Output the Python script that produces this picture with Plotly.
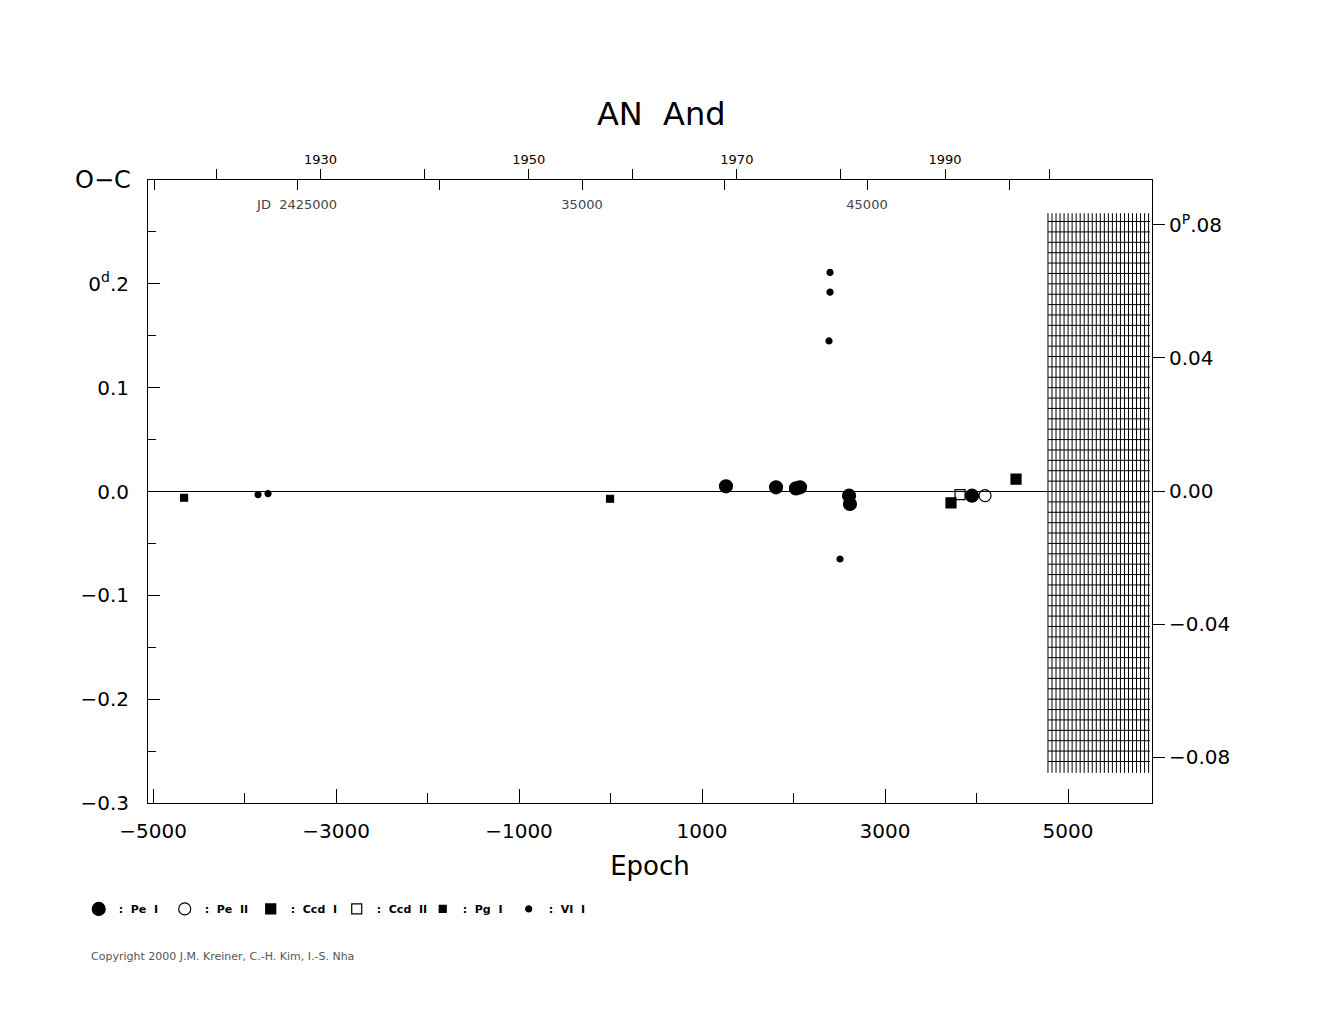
import numpy as np
import plotly.graph_objects as go

# O-C data (epoch, O-C in days)
pe1_epoch = [1262, 1809, 2027, 2071, 2607, 2617, 3951]
pe1_oc = [0.005, 0.004, 0.003, 0.004, -0.004, -0.012, -0.004]
pe2_epoch = [4093]
pe2_oc = [-0.004]
ccd1_epoch = [3721, 4432]
ccd1_oc = [-0.011, 0.012]
ccd2_epoch = [3820]
ccd2_oc = [-0.003]
pg1_epoch = [-4661, -5]
pg1_oc = [-0.006, -0.007]
vi1_epoch = [-3852, -3743, 2399, 2399, 2388, 2508]
vi1_oc = [-0.003, -0.002, 0.211, 0.192, 0.145, -0.065]

period = 3.2107
jd0 = 2436000.0
epoch_per_year = 365.25 / period
year_ref, year_ref_epoch = 1990, 3656

xr = [-5055, 5918]
yr = [-0.3, 0.3]

fig = go.Figure()

# hatched region on the right
hx0, hx1, hy0, hy1 = 4781, 5896, -0.271, 0.268
hxs, hys = [], []
for e in np.arange(hx0, hx1 + 1, 44):
    hxs += [e, e, None]
    hys += [hy0, hy1, None]
for v in np.arange(-0.26, 0.261, 0.01):
    hxs += [hx0, hx1, None]
    hys += [v, v, None]
fig.add_trace(go.Scatter(x=hxs, y=hys, mode='lines', line=dict(color='black', width=1),
                         showlegend=False, hoverinfo='skip'))

fig.add_shape(type='line', x0=xr[0], x1=hx0, y0=0, y1=0, line=dict(color='black', width=1))

def add(x, y, name, symbol, size):
    fig.add_trace(go.Scatter(x=x, y=y, mode='markers', name=name,
                             marker=dict(symbol=symbol, size=size, color='black',
                                         line=dict(color='black', width=1.2))))

add(pe1_epoch, pe1_oc, ':  Pe  I', 'circle', 13)
add(pe2_epoch, pe2_oc, ':  Pe  II', 'circle-open', 12)
add(ccd1_epoch, ccd1_oc, ':  Ccd  I', 'square', 10)
add(ccd2_epoch, ccd2_oc, ':  Ccd  II', 'square-open', 10)
add(pg1_epoch, pg1_oc, ':  Pg  I', 'square', 7)
add(vi1_epoch, vi1_oc, ':  VI  I', 'circle', 6)

# top axes: years (ticks up) and JD (ticks down)
years = list(range(1920, 2001, 10))
year_vals = [year_ref_epoch + (y - year_ref) * epoch_per_year for y in years]
year_text = [str(y) if y % 20 == 10 else '' for y in years]
jds = [2420000, 2425000, 2430000, 2435000, 2440000, 2445000, 2450000, 2455000]
jd_vals = [(j - jd0) / period for j in jds]
jd_text = {2425000: 'JD  2425000', 2435000: '35000', 2445000: '45000'}
jd_labels = [jd_text.get(j, '') for j in jds]

fnt = dict(family='DejaVu Sans', color='black')
yticks = [-0.3, -0.2, -0.1, 0.0, 0.1, 0.2]
ytext = ['−0.3', '−0.2', '−0.1', '0.0', '0.1', '0<sup>d</sup>.2']
y2ticks = [-0.08, -0.04, 0.0, 0.04, 0.08]
y2text = ['−0.08', '−0.04', '0.00', '0.04', '0<sup>P</sup>.08']
fig.add_trace(go.Scatter(x=[None], y=[None], yaxis='y2', showlegend=False))
fig.add_trace(go.Scatter(x=[None], y=[None], xaxis='x2', showlegend=False))
fig.add_trace(go.Scatter(x=[None], y=[None], xaxis='x3', showlegend=False))

fig.update_layout(
    width=1325, height=1020,
    paper_bgcolor='white', plot_bgcolor='white',
    margin=dict(l=140, r=181, t=172, b=225),
    font=fnt,
    title=dict(text='AN  And', x=0.493, xanchor='center', y=0.896, yanchor='middle',
               font=dict(family='DejaVu Sans', size=32, color='black')),
    xaxis=dict(range=xr, showgrid=False, zeroline=False, showline=True, mirror=False,
               linecolor='black', ticks='inside', ticklen=14, tickcolor='black',
               tickvals=[-5000, -3000, -1000, 1000, 3000, 5000], tickfont=dict(size=20),
               ticklabelstandoff=10,
               minor=dict(tickvals=[-4000, -2000, 0, 2000, 4000], ticks='inside', ticklen=10,
                          tickcolor='black'),
               title=dict(text='Epoch', font=dict(size=26), standoff=14)),
    xaxis2=dict(range=xr, overlaying='x', side='top', showgrid=False, zeroline=False,
                showline=True, linecolor='black', ticks='outside', ticklen=10,
                tickcolor='black', tickvals=year_vals, ticktext=year_text,
                tickfont=dict(size=13)),
    xaxis3=dict(range=xr, overlaying='x', side='top', showgrid=False, zeroline=False,
                showline=False, ticks='inside', ticklen=10, tickcolor='black',
                tickvals=jd_vals, ticktext=jd_labels, ticklabelposition='inside',
                ticklabelstandoff=10, tickfont=dict(size=13)),
    yaxis=dict(range=yr, showgrid=False, zeroline=False, showline=True, linecolor='black',
               ticks='inside', ticklen=12, tickcolor='black', tickvals=yticks,
               ticktext=ytext, tickfont=dict(size=20), ticklabelstandoff=14,
               minor=dict(dtick=0.05, ticks='inside', ticklen=8, tickcolor='black')),
    yaxis2=dict(range=[-0.0938, 0.0935], overlaying='y', side='right', showgrid=False,
                zeroline=False, showline=True, linecolor='black', ticks='outside',
                ticklen=12, tickcolor='black', tickvals=y2ticks, ticktext=y2text,
                tickfont=dict(size=20)),
    legend=dict(orientation='h', x=-0.069, y=-0.17, xanchor='left', yanchor='middle',
                font=dict(family='DejaVu Sans', size=11, color='black', weight='bold'),
                entrywidth=41, itemsizing='trace', traceorder='normal'),
    annotations=[
        dict(text='O−C', x=-0.045, y=1.0, xref='paper', yref='paper', showarrow=False,
             xanchor='center', yanchor='middle', font=dict(size=24)),
        dict(text='Copyright 2000 J.M. Kreiner, C.-H. Kim, I.-S. Nha', xref='paper',
             yref='paper', x=-0.059, y=-0.26, xanchor='left', showarrow=False,
             font=dict(size=11, color='#555555')),
    ],
)

fig.write_html('out.html')
